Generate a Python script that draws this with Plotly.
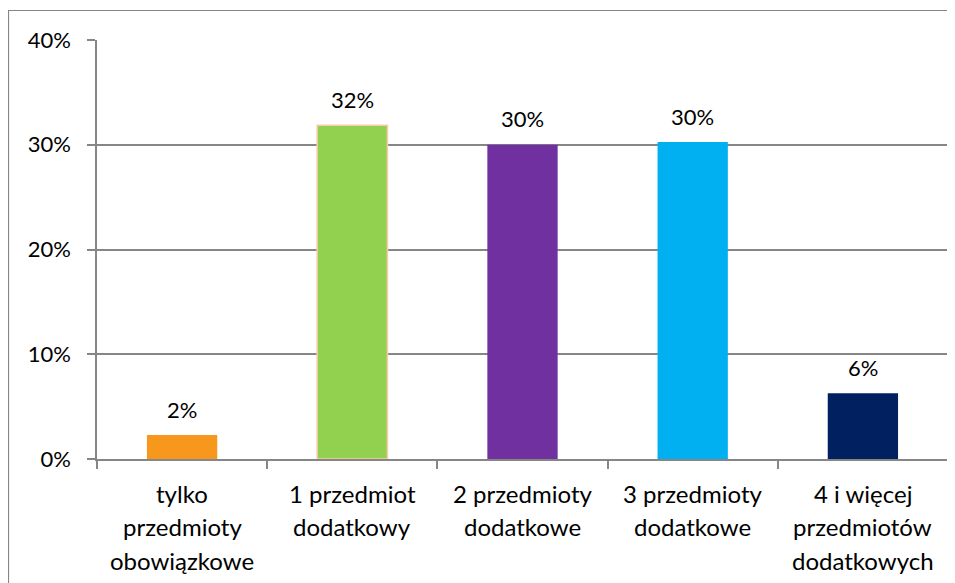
import plotly.graph_objects as go

categories = ["tylko przedmioty obowiązkowe", "1 przedmiot dodatkowy",
              "2 przedmioty dodatkowe", "3 przedmioty dodatkowe",
              "4 i więcej przedmiotów dodatkowych"]
label_lines = [["tylko", "przedmioty", "obowiązkowe"],
               ["1 przedmiot", "dodatkowy"],
               ["2 przedmioty", "dodatkowe"],
               ["3 przedmioty", "dodatkowe"],
               ["4 i więcej", "przedmiotów", "dodatkowych"]]
values = [0.0229, 0.3186, 0.300, 0.3026, 0.0627]
value_labels = ["2%", "32%", "30%", "30%", "6%"]
colors = ["#F7981D", "#92D050", "#7030A0", "#00B0F0", "#002060"]
outline = ["rgba(0,0,0,0)", "#F8CBAD", "rgba(0,0,0,0)", "rgba(0,0,0,0)", "rgba(0,0,0,0)"]
y_ticks = [0, 0.1, 0.2, 0.3, 0.4]
y_tick_labels = ["0%", "10%", "20%", "30%", "40%"]

FONT = "Lato, Carlito, Calibri, sans-serif"
GRAY = "#868686"

# page body has an 8px margin; figure origin is at (8, 8)
W, H = 947, 575
L, R, T, B = 89, 7, 32, 124

fig = go.Figure(go.Bar(
    x=categories, y=values,
    marker=dict(color=colors, line=dict(color=outline, width=1.5)),
    hoverinfo="skip",
))

annotations = []
for c, v, t in zip(categories, values, value_labels):
    annotations.append(dict(x=c, y=v, xref="x", yref="y", text=t, showarrow=False,
                            yanchor="middle", yshift=26,
                            font=dict(family=FONT, size=22, color="#000000")))
for c, lines in zip(categories, label_lines):
    for i, ln in enumerate(lines):
        annotations.append(dict(x=c, y=0, xref="x", yref="y", text=ln, showarrow=False,
                                yanchor="middle", yshift=-(34 + 33.5 * i),
                                font=dict(family=FONT, size=24, color="#000000")))

pw = W - L - R
ph = H - T - B
fig.update_layout(
    width=W, height=H,
    margin=dict(l=L, r=R, t=T, b=B, pad=0),
    paper_bgcolor="white", plot_bgcolor="white",
    bargap=0.587,
    showlegend=False,
    font=dict(family=FONT, size=22, color="#000000"),
    annotations=annotations,
    shapes=[dict(type="rect", xref="paper", yref="paper",
                 x0=(0.5 - L) / pw, x1=1.2, y0=-0.6, y1=(ph + T - 2.5) / ph,
                 line=dict(color=GRAY, width=1.2), fillcolor="rgba(0,0,0,0)", layer="below")],
)
fig.update_xaxes(
    showticklabels=False, tickson="boundaries", ticks="outside", ticklen=8,
    tickcolor=GRAY, tickwidth=1.5,
    showline=True, linecolor=GRAY, linewidth=1.5, showgrid=False, zeroline=False,
)
fig.update_yaxes(
    range=[0, 0.4], tickvals=y_ticks, ticktext=y_tick_labels,
    ticks="outside", ticklen=8, tickcolor=GRAY, tickwidth=1.5,
    ticklabelstandoff=12,
    showline=True, linecolor=GRAY, linewidth=1.5,
    showgrid=True, gridcolor=GRAY, gridwidth=1.5, zeroline=False,
    tickfont=dict(family=FONT, size=22, color="#000000"),
)

fig.write_html("out.html")
